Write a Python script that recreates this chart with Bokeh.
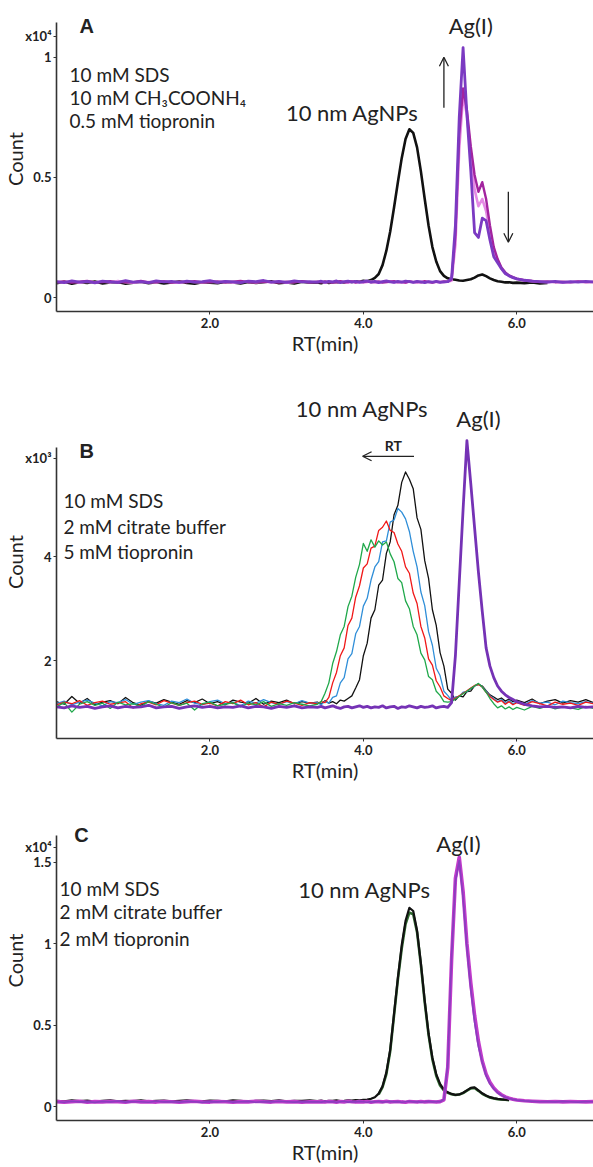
from bokeh.plotting import figure
from bokeh.models import FixedTicker, PrintfTickFormatter, CustomJSTickFormatter, Label, Arrow, OpenHead
from bokeh.layouts import column
from bokeh.embed import file_html
from bokeh.resources import INLINE

nan = float("nan")

# ---------------- retention-time grid (min) ----------------
X_base = [0.0, 0.1, 0.2, 0.3, 0.4, 0.5, 0.6, 0.7, 0.8, 0.9, 1.0, 1.1, 1.2, 1.3, 1.4, 1.5, 1.6,
          1.7, 1.8, 1.9, 2.0, 2.1, 2.2, 2.3, 2.4, 2.5, 2.6, 2.7, 2.8, 2.9, 3.0, 3.1, 3.2, 3.3]
X_mid = [3.4, 3.45, 3.5, 3.55, 3.6, 3.65, 3.7, 3.75, 3.8, 3.85, 3.9, 3.95, 4.0, 4.05, 4.1, 4.15,
         4.2, 4.25, 4.3, 4.35, 4.4, 4.45, 4.5, 4.55, 4.6, 4.65, 4.7, 4.75, 4.8, 4.85, 4.9, 4.95,
         5.0, 5.05, 5.1, 5.15, 5.2, 5.25, 5.3, 5.35, 5.4, 5.45, 5.5, 5.55, 5.6, 5.65, 5.7, 5.75,
         5.8, 5.85, 5.9, 5.95]
X_tail = [6.0, 6.1, 6.2, 6.3, 6.4, 6.5, 6.6, 6.7, 6.8, 6.9, 7.0]
RT = X_base + X_mid + X_tail

# ---------------- Panel A (x10^4 counts) ----------------
A_black = ([0.060, 0.066, 0.058, 0.064, 0.061, 0.067, 0.059, 0.063, 0.065, 0.058,
            0.062, 0.066, 0.060, 0.064, 0.059, 0.063, 0.067, 0.061, 0.058, 0.064,
            0.062, 0.060, 0.066, 0.063, 0.059, 0.065, 0.061, 0.064, 0.068, 0.060,
            0.063, 0.059, 0.066, 0.062]
           + [0.063, 0.060, 0.065, 0.061, 0.064, 0.062, 0.066, 0.063, 0.067, 0.065,
              0.068, 0.066, 0.070, 0.068, 0.073, 0.082, 0.098, 0.135, 0.195, 0.275,
              0.375, 0.48, 0.58, 0.66, 0.70, 0.685, 0.625, 0.525, 0.41, 0.30,
              0.21, 0.15, 0.11, 0.09, 0.080, 0.076, 0.074, 0.071, 0.070, 0.073,
              0.076, 0.083, 0.092, 0.096, 0.089, 0.080, 0.073, 0.068, 0.066, 0.063,
              0.064, 0.061]
           + [0.062, 0.060, 0.063, 0.059, 0.061, nan, nan, nan, nan, nan, nan])

A_pink = ([0.065, 0.063, 0.068, 0.062, 0.066, 0.064, 0.067, 0.063, 0.069, 0.064,
           0.062, 0.066, 0.065, 0.063, 0.068, 0.064, 0.062, 0.067, 0.065, 0.063,
           0.066, 0.064, 0.068, 0.062, 0.065, 0.067, 0.063, 0.066, 0.064, 0.068,
           0.062, 0.065, 0.067, 0.064]
          + [0.065, 0.067, 0.062, 0.066, 0.064, 0.063, 0.067, 0.065, 0.062, 0.068,
             0.064, 0.066, 0.063, 0.065, 0.067, 0.064, 0.062, 0.066, 0.065, 0.068,
             0.063, 0.066, 0.064, 0.062, 0.067, 0.065, 0.063, 0.066, 0.064, 0.067,
             0.063, 0.065, 0.066, 0.064, 0.067,
             0.07, 0.22, 0.62, 0.84, 0.76, 0.60, 0.45, 0.38, 0.41, 0.36, 0.27, 0.19,
             0.155, 0.12, 0.10, 0.09, 0.083]
          + [0.077, 0.071, 0.068, 0.066, 0.064, 0.066, 0.063, 0.065, 0.067, 0.064, 0.066])

A_magenta = ([0.064, 0.067, 0.062, 0.066, 0.069, 0.063, 0.065, 0.068, 0.062, 0.066,
              0.064, 0.069, 0.063, 0.065, 0.067, 0.062, 0.066, 0.064, 0.068, 0.063,
              0.065, 0.067, 0.062, 0.066, 0.069, 0.064, 0.063, 0.067, 0.065, 0.062,
              0.066, 0.064, 0.068, 0.063]
             + [0.066, 0.063, 0.067, 0.064, 0.062, 0.066, 0.068, 0.063, 0.065, 0.067,
                0.062, 0.066, 0.064, 0.068, 0.063, 0.065, 0.067, 0.062, 0.064, 0.066,
                0.068, 0.063, 0.065, 0.062, 0.067, 0.064, 0.066, 0.063, 0.068, 0.064,
                0.062, 0.066, 0.064, 0.067, 0.066,
                0.075, 0.26, 0.68, 0.87, 0.78, 0.63, 0.51, 0.44, 0.48, 0.41, 0.30, 0.21,
                0.16, 0.125, 0.105, 0.092, 0.085]
             + [0.079, 0.072, 0.069, 0.065, 0.067, 0.064, 0.066, 0.063, 0.067, 0.065, 0.064])

A_purple = ([0.066, 0.062, 0.069, 0.064, 0.067, 0.061, 0.068, 0.065, 0.063, 0.070,
             0.064, 0.066, 0.062, 0.069, 0.065, 0.067, 0.063, 0.068, 0.064, 0.066,
             0.070, 0.063, 0.067, 0.065, 0.062, 0.068, 0.066, 0.071, 0.064, 0.067,
             0.063, 0.069, 0.065, 0.066]
            + [0.064, 0.068, 0.063, 0.067, 0.065, 0.069, 0.062, 0.066, 0.068, 0.064,
               0.067, 0.063, 0.066, 0.069, 0.064, 0.067, 0.062, 0.066, 0.069, 0.065,
               0.063, 0.067, 0.064, 0.068, 0.066, 0.063, 0.067, 0.065, 0.062, 0.066,
               0.064, 0.067, 0.063, 0.065, 0.066,
               0.08, 0.30, 0.75, 1.04, 0.76, 0.53, 0.27, 0.25, 0.33, 0.32, 0.24, 0.17,
               0.145, 0.12, 0.10, 0.09, 0.083]
            + [0.078, 0.072, 0.068, 0.066, 0.064, 0.067, 0.063, 0.066, 0.064, 0.067, 0.065])

# ---------------- Panel B (x10^3 counts) ----------------
B_black = ([1.22, 1.17, 1.32, 1.19, 1.28, 1.16, 1.21, 1.24, 1.18, 1.30,
            1.20, 1.15, 1.23, 1.19, 1.26, 1.21, 1.17, 1.24, 1.20, 1.27,
            1.18, 1.22, 1.16, 1.25, 1.21, 1.19, 1.28, 1.17, 1.23, 1.20,
            1.25, 1.18, 1.22, 1.19]
           + [1.21, 1.17, 1.24, 1.19, 1.22, 1.18, 1.25, 1.23, 1.28, 1.33,
              1.48, 1.64, 2.10, 2.34, 2.82, 2.98, 3.45, 3.55, 4.06, 4.28,
              4.80, 4.98, 5.42, 5.62, 5.48, 5.30, 4.74, 4.52, 3.92, 3.58,
              2.98, 2.68, 2.16, 1.90, 1.46, 1.38, 1.25, 1.33, 1.31, 1.41,
              1.42, 1.52, 1.55, 1.52, 1.43, 1.35, 1.31, 1.26, 1.29, 1.23,
              1.27, 1.22]
           + [1.25, 1.20, 1.27, 1.18, 1.23, 1.26, 1.19, 1.24, 1.21, 1.26, 1.20])

B_blue = ([1.18, 1.23, 1.16, 1.21, 1.25, 1.19, 1.14, 1.22, 1.20, 1.26,
           1.17, 1.21, 1.24, 1.18, 1.15, 1.23, 1.20, 1.27, 1.19, 1.16,
           1.22, 1.25, 1.18, 1.21, 1.14, 1.23, 1.19, 1.26, 1.20, 1.17,
           1.22, 1.18, 1.24, 1.19]
          + [1.20, 1.16, 1.23, 1.19, 1.30, 1.33, 1.58, 1.68, 2.04, 2.14,
             2.52, 2.66, 3.05, 3.20, 3.55, 3.80, 3.90, 4.28, 4.30, 4.66,
             4.70, 4.92, 4.85, 4.72, 4.48, 4.10, 3.80, 3.32, 3.06, 2.56,
             2.30, 1.86, 1.72, 1.42, 1.34, 1.24, 1.31, 1.32, 1.40, 1.41,
             1.47, 1.52, 1.56, 1.50, 1.42, 1.33, 1.28, 1.22, 1.26, 1.19,
             1.24, 1.18]
          + [1.22, 1.17, 1.24, 1.19, 1.21, 1.16, 1.23, 1.20, 1.18, 1.22, 1.19])

B_red = ([1.16, 1.21, 1.18, 1.24, 1.15, 1.20, 1.23, 1.17, 1.19, 1.22,
          1.10, 1.18, 1.21, 1.16, 1.24, 1.19, 1.15, 1.20, 1.23, 1.17,
          1.19, 1.14, 1.22, 1.18, 1.25, 1.16, 1.20, 1.12, 1.21, 1.17,
          1.23, 1.19, 1.15, 1.20]
         + [1.18, 1.22, 1.20, 1.30, 1.58, 1.78, 2.10, 2.25, 2.68, 2.82,
            3.22, 3.44, 3.78, 3.86, 4.16, 4.20, 4.50, 4.56, 4.68, 4.50,
            4.46, 4.24, 4.10, 3.80, 3.68, 3.30, 3.10, 2.66, 2.44, 2.04,
            1.92, 1.62, 1.50, 1.33, 1.28, 1.24, 1.29, 1.33, 1.38, 1.43,
            1.48, 1.53, 1.55, 1.50, 1.40, 1.32, 1.26, 1.21, 1.24, 1.17,
            1.22, 1.16]
         + [1.20, 1.15, 1.22, 1.18, 1.14, 1.21, 1.17, 1.19, 1.15, 1.21, 1.18])

B_green = ([1.12, 1.20, 1.02, 1.17, 1.22, 1.15, 1.19, 1.09, 1.21, 1.16,
            1.18, 1.13, 1.22, 1.17, 1.11, 1.20, 1.15, 1.19, 1.06, 1.18,
            1.21, 1.14, 1.17, 1.20, 1.12, 1.19, 1.16, 1.22, 1.13, 1.18,
            1.15, 1.20, 1.17, 1.14]
           + [1.17, 1.22, 1.38, 1.58, 1.95, 2.18, 2.50, 2.66, 3.04, 3.24,
              3.60, 3.85, 4.25, 4.10, 4.32, 4.18, 4.30, 4.22, 4.28, 4.05,
              3.90, 3.58, 3.50, 3.15, 3.00, 2.66, 2.50, 2.15, 2.02, 1.70,
              1.64, 1.42, 1.34, 1.22, 1.21, 1.22, 1.27, 1.32, 1.37, 1.42,
              1.47, 1.52, 1.57, 1.50, 1.40, 1.28, 1.18, 1.10, 1.14, 1.08,
              1.12, 1.07]
           + [1.11, 1.06, 1.13, 1.09, 1.14, 1.08, 1.12, 1.10, 1.07, 1.13, 1.09])

B_purple = ([1.12, 1.10, 1.14, 1.11, 1.13, 1.09, 1.12, 1.14, 1.10, 1.13,
             1.11, 1.12, 1.15, 1.10, 1.12, 1.13, 1.09, 1.12, 1.14, 1.11,
             1.13, 1.10, 1.12, 1.11, 1.14, 1.10, 1.13, 1.12, 1.09, 1.13,
             1.11, 1.14, 1.10, 1.12]
            + [1.11, 1.13, 1.10, 1.12, 1.14, 1.11, 1.09, 1.12, 1.13, 1.10,
               1.12, 1.14, 1.11, 1.13, 1.10, 1.12, 1.11, 1.14, 1.10, 1.12,
               1.13, 1.09, 1.12, 1.11, 1.14, 1.12, 1.10, 1.13, 1.11, 1.12,
               1.14, 1.10, 1.12, 1.13, 1.11,
               1.20, 2.10, 3.50, 4.90, 6.22, 5.40, 4.55, 3.70, 2.95, 2.25, 1.90, 1.68,
               1.52, 1.42, 1.35, 1.30, 1.26]
            + [1.22, 1.17, 1.14, 1.12, 1.13, 1.11, 1.12, 1.10, 1.13, 1.11, 1.12])

# ---------------- Panel C (x10^4 counts) ----------------
C_green = ([nan] * 34
           + [nan] * 16
           + [0.075, 0.12, 0.20, 0.34, 0.56, 0.78, 0.97, 1.12, 1.19, 1.18,
              1.07, 0.87, 0.64, 0.44, 0.29, 0.19, 0.13, 0.10, 0.085, 0.076,
              0.071, 0.074, 0.083, 0.098, 0.112, 0.114, 0.097, 0.079, 0.066, 0.056,
              0.050, 0.046, 0.044, 0.042, 0.040, nan]
           + [nan] * 11)

C_black = ([0.036, 0.032, 0.038, 0.034, 0.037, 0.031, 0.035, 0.039, 0.033, 0.036,
            0.034, 0.038, 0.032, 0.035, 0.037, 0.033, 0.036, 0.039, 0.034, 0.032,
            0.037, 0.035, 0.033, 0.038, 0.036, 0.031, 0.035, 0.037, 0.034, 0.039,
            0.033, 0.036, 0.035, 0.038]
           + [0.034, 0.037, 0.033, 0.036, 0.035, 0.038, 0.034, 0.036, 0.039, 0.037,
              0.040, 0.038, 0.041, 0.043, 0.048, 0.058, 0.080, 0.125, 0.21, 0.35,
              0.57, 0.79, 0.99, 1.14, 1.22, 1.20, 1.08, 0.88, 0.65, 0.45,
              0.30, 0.20, 0.14, 0.105, 0.088, 0.078, 0.072, 0.075, 0.085, 0.10,
              0.115, 0.118, 0.10, 0.082, 0.068, 0.058, 0.052, 0.048, 0.045, 0.043,
              0.041, nan]
           + [nan] * 11)

C_magenta = ([0.031, 0.028, 0.030, 0.033, 0.027, 0.031, 0.029, 0.032, 0.030, 0.027,
              0.033, 0.029, 0.031, 0.028, 0.032, 0.030, 0.027, 0.031, 0.033, 0.029,
              0.028, 0.032, 0.030, 0.027, 0.031, 0.029, 0.033, 0.030, 0.028, 0.032,
              0.029, 0.031, 0.027, 0.030]
             + [0.029, 0.031, 0.028, 0.032, 0.030, 0.027, 0.031, 0.029, 0.033, 0.030,
                0.028, 0.031, 0.029, 0.032, 0.027, 0.030, 0.031, 0.029, 0.033, 0.028,
                0.030, 0.032, 0.029, 0.027, 0.031, 0.030, 0.028, 0.032, 0.029, 0.031,
                0.030, 0.028, 0.031,
                0.042, 0.24, 0.90, 1.40, 1.53, 1.32, 1.00, 0.76, 0.56, 0.40, 0.28, 0.20,
                0.15, 0.115, 0.09, 0.073, 0.06, 0.052, 0.046]
             + [0.041, 0.036, 0.033, 0.031, 0.030, 0.032, 0.029, 0.031, 0.030, 0.029, 0.031])

C_violet = ([0.030, 0.027, 0.033, 0.029, 0.031, 0.026, 0.032, 0.029, 0.034, 0.028,
             0.031, 0.030, 0.027, 0.033, 0.029, 0.031, 0.028, 0.032, 0.030, 0.026,
             0.031, 0.029, 0.033, 0.028, 0.030, 0.032, 0.027, 0.031, 0.029, 0.033,
             0.030, 0.028, 0.031, 0.029]
            + [0.030, 0.028, 0.032, 0.029, 0.031, 0.027, 0.030, 0.033, 0.028, 0.031,
               0.029, 0.032, 0.030, 0.027, 0.031, 0.029, 0.033, 0.028, 0.030, 0.032,
               0.029, 0.031, 0.027, 0.030, 0.033, 0.029, 0.031, 0.028, 0.030, 0.032,
               0.029, 0.031, 0.030,
               0.045, 0.26, 0.93, 1.38, 1.51, 1.28, 0.97, 0.72, 0.52, 0.37, 0.27, 0.19,
               0.14, 0.11, 0.085, 0.07, 0.058, 0.05, 0.045]
            + [0.040, 0.035, 0.032, 0.030, 0.031, 0.029, 0.032, 0.030, 0.028, 0.031, 0.030])

# ---------------- ticks and scale markers ----------------
X_TICKS = [2, 4, 6]
A_YTICKS = [0, 0.5, 1]
B_YTICKS = [2, 4]
C_YTICKS = [0, 0.5, 1, 1.5]
A_SCALE = ("x10⁴", 1.087)
B_SCALE = ("x10³", 5.886)
C_SCALE = ("x10⁴", 1.59)

TXT = "#222222"
FONT = "Lato"


def make_fig(height, y_range, border_top, yticks, scale, label_standoff, bounds):
    p = figure(width=593, height=height, x_range=(0, 7), y_range=y_range,
               output_backend="svg", toolbar_location=None,
               min_border_left=55, min_border_right=0,
               min_border_top=border_top, min_border_bottom=10)
    p.outline_line_color = None
    p.xgrid.visible = False
    p.ygrid.visible = False
    for ax in (p.xaxis[0], p.yaxis[0]):
        ax.axis_line_width = 1.6
        ax.axis_line_color = "#333333"
        ax.major_tick_line_color = "#333333"
        ax.major_tick_in = 0
        ax.major_tick_out = 3
        ax.minor_tick_line_color = None
        ax.major_label_text_font = FONT
        ax.major_label_text_font_style = "bold"
        ax.major_label_text_font_size = "13px"
        ax.major_label_text_color = TXT
        ax.axis_label_text_font = FONT
        ax.axis_label_text_font_style = "normal"
        ax.axis_label_text_font_size = "20px"
        ax.axis_label_text_color = TXT
    p.xaxis.ticker = FixedTicker(ticks=X_TICKS)
    p.xaxis.formatter = PrintfTickFormatter(format="%.1f")
    p.xaxis.axis_label = "RT(min)"
    p.xaxis.major_label_standoff = 3
    p.xaxis.axis_label_standoff = 0
    p.yaxis.ticker = FixedTicker(ticks=yticks + [scale[1]])
    p.yaxis.formatter = CustomJSTickFormatter(
        args=dict(lab=scale[0], top=scale[1]),
        code="return Math.abs(tick - top) < 1e-6 ? lab : tick.toString();")
    p.yaxis.axis_label = "Count"
    p.yaxis.major_label_standoff = 2
    p.yaxis.axis_label_standoff = label_standoff
    p.yaxis.bounds = bounds
    return p


def txt(p, x, y, text, size="19px", bold=False, align="left", font=FONT):
    p.add_layout(Label(x=x, y=y, text=text, text_font=font, text_font_size=size,
                       text_font_style="bold" if bold else "normal",
                       text_align=align, text_baseline="middle", text_color=TXT))


def arrow(p, x0, y0, x1, y1):
    p.add_layout(Arrow(end=OpenHead(size=9, line_width=1.3, line_color="#222222"),
                       x_start=x0, y_start=y0, x_end=x1, y_end=y1,
                       line_width=1.3, line_color="#222222"))


# ---------------- Panel A ----------------
pA = make_fig(357, (-0.058, 1.211), 6, A_YTICKS, A_SCALE, -5, (-0.058, 1.145))
pA.line(RT, A_black, line_color="#111111", line_width=2.6, line_join="round")
pA.line(RT, A_pink, line_color="#E58AE5", line_width=2.6, line_join="round")
pA.line(RT, A_magenta, line_color="#A3249F", line_width=2.4, line_join="round")
pA.line(RT, A_purple, line_color="#7B3AC2", line_width=2.8, line_join="round")
txt(pA, 0.30, 1.128, "A", size="20px", bold=True, font="Liberation Sans")
txt(pA, 0.17, 0.926, "10 mM SDS")
txt(pA, 0.17, 0.831, "10 mM CH₃COONH₄")
txt(pA, 0.17, 0.736, "0.5 mM tiopronin")
txt(pA, 2.99, 0.769, "10 nm AgNPs", size="22px")
txt(pA, 5.40, 1.132, "Ag(I)", size="22px", align="center")
arrow(pA, 5.05, 0.79, 5.05, 1.0)
arrow(pA, 5.89, 0.44, 5.89, 0.23)

# ---------------- Panel B ----------------
pB = make_fig(427, (0.514, 7.276), 28, B_YTICKS, B_SCALE, -5, (0.514, 6.08))
pB.line(RT, B_black, line_color="#111111", line_width=1.3, line_join="round")
pB.line(RT, B_blue, line_color="#2F8ED8", line_width=1.3, line_join="round")
pB.line(RT, B_red, line_color="#F01818", line_width=1.3, line_join="round")
pB.line(RT, B_green, line_color="#1FA84A", line_width=1.3, line_join="round")
pB.line(RT, B_purple, line_color="#7532B5", line_width=2.8, line_join="round")
txt(pB, 0.30, 6.02, "B", size="20px", bold=True, font="Liberation Sans")
txt(pB, 0.09, 5.07, "10 mM SDS")
txt(pB, 0.09, 4.57, "2 mM citrate buffer")
txt(pB, 0.09, 4.10, "5 mM tiopronin")
txt(pB, 3.12, 6.84, "10 nm AgNPs", size="22px")
txt(pB, 5.50, 6.65, "Ag(I)", size="22px", align="center")
txt(pB, 4.39, 6.13, "RT", size="14px", bold=True, align="center")
arrow(pB, 4.66, 5.92, 3.99, 5.92)

# ---------------- Panel C ----------------
pC = make_fig(382, (-0.085, 1.878), 16, C_YTICKS, C_SCALE, -5, (-0.085, 1.665))
pC.line(RT, C_green, line_color="#2E6B2E", line_width=2.6, line_join="round")
pC.line(RT, C_black, line_color="#111111", line_width=2.2, line_join="round")
pC.line(RT, C_magenta, line_color="#C23BCB", line_width=3.6, line_join="round")
pC.line(RT, C_violet, line_color="#8A3DBF", line_width=1.7, line_join="round")
txt(pC, 0.23, 1.665, "C", size="20px", bold=True, font="Liberation Sans")
txt(pC, 0.04, 1.34, "10 mM SDS")
txt(pC, 0.04, 1.20, "2 mM citrate buffer")
txt(pC, 0.04, 1.03, "2 mM tiopronin")
txt(pC, 3.15, 1.335, "10 nm AgNPs", size="22px")
txt(pC, 5.24, 1.616, "Ag(I)", size="22px", align="center")

layout = column(pA, pB, pC)
open("out.html", "w").write(file_html(layout, INLINE))
